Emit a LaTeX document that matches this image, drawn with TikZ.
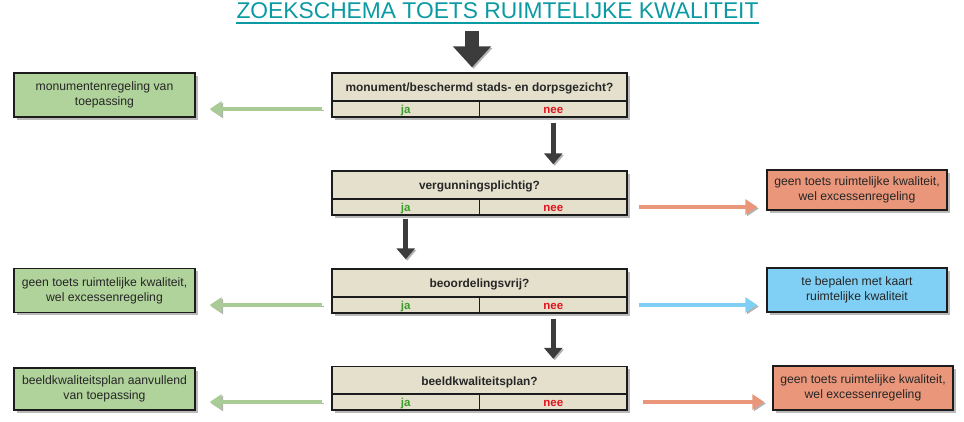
\documentclass[tikz,border=0pt]{standalone}
\usepackage{fontspec}
\setmainfont{Liberation Sans}
\usetikzlibrary{arrows.meta,shadows}
\definecolor{beige}{HTML}{E4E0CC}
\definecolor{gfill}{HTML}{B0D29B}
\definecolor{garrow}{HTML}{A9CC96}
\definecolor{sfill}{HTML}{E9967A}
\definecolor{sarrow}{HTML}{E9967A}
\definecolor{bfill}{HTML}{80CFF5}
\definecolor{barrow}{HTML}{80CFF5}
\definecolor{darkarrow}{HTML}{3C3C3C}
\definecolor{border}{HTML}{1C1C1C}
\definecolor{titlecol}{HTML}{0A9AA2}
\definecolor{jacol}{HTML}{3C9C2C}
\definecolor{neecol}{HTML}{E0141E}
\begin{document}
\begin{tikzpicture}[x=1pt,y=-1pt,
  boxshadow/.style={drop shadow={shadow xshift=2.5pt,shadow yshift=-2.5pt,fill=black!50,opacity=0.55}},
  qhead/.style={rectangle,draw=border,line width=1.4pt,fill=beige,minimum width=295pt,minimum height=28pt,inner sep=0pt,text height=10pt,text depth=1pt,font=\fontsize{11.9}{14}\selectfont\bfseries,text=black!85,boxshadow},
  qcell/.style={rectangle,draw=border,line width=1.4pt,fill=beige,minimum width=147.5pt,minimum height=16pt,inner sep=0pt,text height=10pt,text depth=1pt,font=\fontsize{11.5}{13}\selectfont\bfseries,boxshadow},
  outbox/.style={rectangle,draw=border,line width=1.4pt,minimum width=181pt,minimum height=44pt,inner sep=0pt,align=center,font=\fontsize{12.2}{15}\selectfont,text=black!85,boxshadow},
  arrshadow/.style={preaction={draw=black!30,transform canvas={xshift=1.5pt,yshift=-1.5pt}}},
  harr/.style={line width=4pt,-{Triangle[width=15pt,length=12pt]},arrshadow},
  varr/.style={line width=5pt,draw=darkarrow,-{Triangle[width=18pt,length=11pt]},arrshadow}
]
\useasboundingbox (0,0) rectangle (964,421);

% title
\node[anchor=base,inner sep=0pt,text=titlecol,font=\fontsize{22.8}{26}\selectfont] (title) at (497.5,18) {ZOEKSCHEMA TOETS RUIMTELIJKE KWALITEIT};
\draw[titlecol,line width=2pt] ([yshift=-4.5pt]title.base west) -- ([yshift=-4.5pt]title.base east);

% decision boxes
\node[qhead] (d1h) at (479.5,87) {monument/beschermd stads- en dorpsgezicht?};
\node[qcell,text=jacol] (d1ja) at (405.75,109) {ja};
\node[qcell,text=neecol] (d1nee) at (553.25,109) {nee};

\node[qhead] (d2h) at (479.5,185) {vergunningsplichtig?};
\node[qcell,text=jacol] (d2ja) at (405.75,207) {ja};
\node[qcell,text=neecol] (d2nee) at (553.25,207) {nee};

\node[qhead] (d3h) at (479.5,283) {beoordelingsvrij?};
\node[qcell,text=jacol] (d3ja) at (405.75,305) {ja};
\node[qcell,text=neecol] (d3nee) at (553.25,305) {nee};

\node[qhead] (d4h) at (479.5,380.5) {beeldkwaliteitsplan?};
\node[qcell,text=jacol] (d4ja) at (405.75,402) {ja};
\node[qcell,text=neecol] (d4nee) at (553.25,402) {nee};

% outcome boxes
\node[outbox,fill=gfill] (g1) at (104.5,95) {monumentenregeling van\\toepassing};
\node[outbox,fill=gfill] (g3) at (104.5,290.5) {geen toets ruimtelijke kwaliteit,\\wel excessenregeling};
\node[outbox,fill=gfill,minimum height=42pt] (g4) at (104.5,389) {beeldkwaliteitsplan aanvullend\\van toepassing};

\node[outbox,fill=sfill,minimum width=180pt,minimum height=40pt] (r2) at (857,190) {geen toets ruimtelijke kwaliteit,\\wel excessenregeling};
\node[outbox,fill=bfill,minimum width=180pt] (r3) at (857,290) {te bepalen met kaart\\ruimtelijke kwaliteit};
\node[outbox,fill=sfill,minimum width=180pt] (r4) at (863,388) {geen toets ruimtelijke kwaliteit,\\wel excessenregeling};

% top arrow
\coordinate (topA) at (472,31);
\draw[line width=14pt,draw=darkarrow,-{Triangle[width=37pt,length=21pt]},arrshadow] (topA) -- ([yshift=5pt]topA |- d1h.north);

% vertical arrows
\draw[varr] ([yshift=-5pt]d1nee.south) -- ([yshift=6pt]d1nee.south |- d2h.north);
\draw[varr] ([yshift=-3pt]d2ja.south) -- ([yshift=9pt]d2ja.south |- d3h.north);
\draw[varr] ([yshift=-5pt]d3nee.south) -- ([yshift=7pt]d3nee.south |- d4h.north);

% horizontal arrows
\draw[harr,draw=garrow] ([xshift=-9pt]d1ja.west) -- ([xshift=14pt]g1.east |- d1ja.west);
\draw[harr,draw=garrow] ([xshift=-9pt]d3ja.west) -- ([xshift=14pt]g3.east |- d3ja.west);
\draw[harr,draw=garrow] ([xshift=-9pt]d4ja.west) -- ([xshift=14pt]g4.east |- d4ja.west);
\draw[harr,draw=sarrow] ([xshift=11pt]d2nee.east) -- ([xshift=-9pt]r2.west |- d2nee.east);
\draw[harr,draw=barrow] ([xshift=11pt]d3nee.east) -- ([xshift=-9pt]r3.west |- d3nee.east);
\draw[harr,draw=sarrow] ([xshift=15pt]d4nee.east) -- ([xshift=-8pt]r4.west |- d4nee.east);
\end{tikzpicture}
\end{document}
